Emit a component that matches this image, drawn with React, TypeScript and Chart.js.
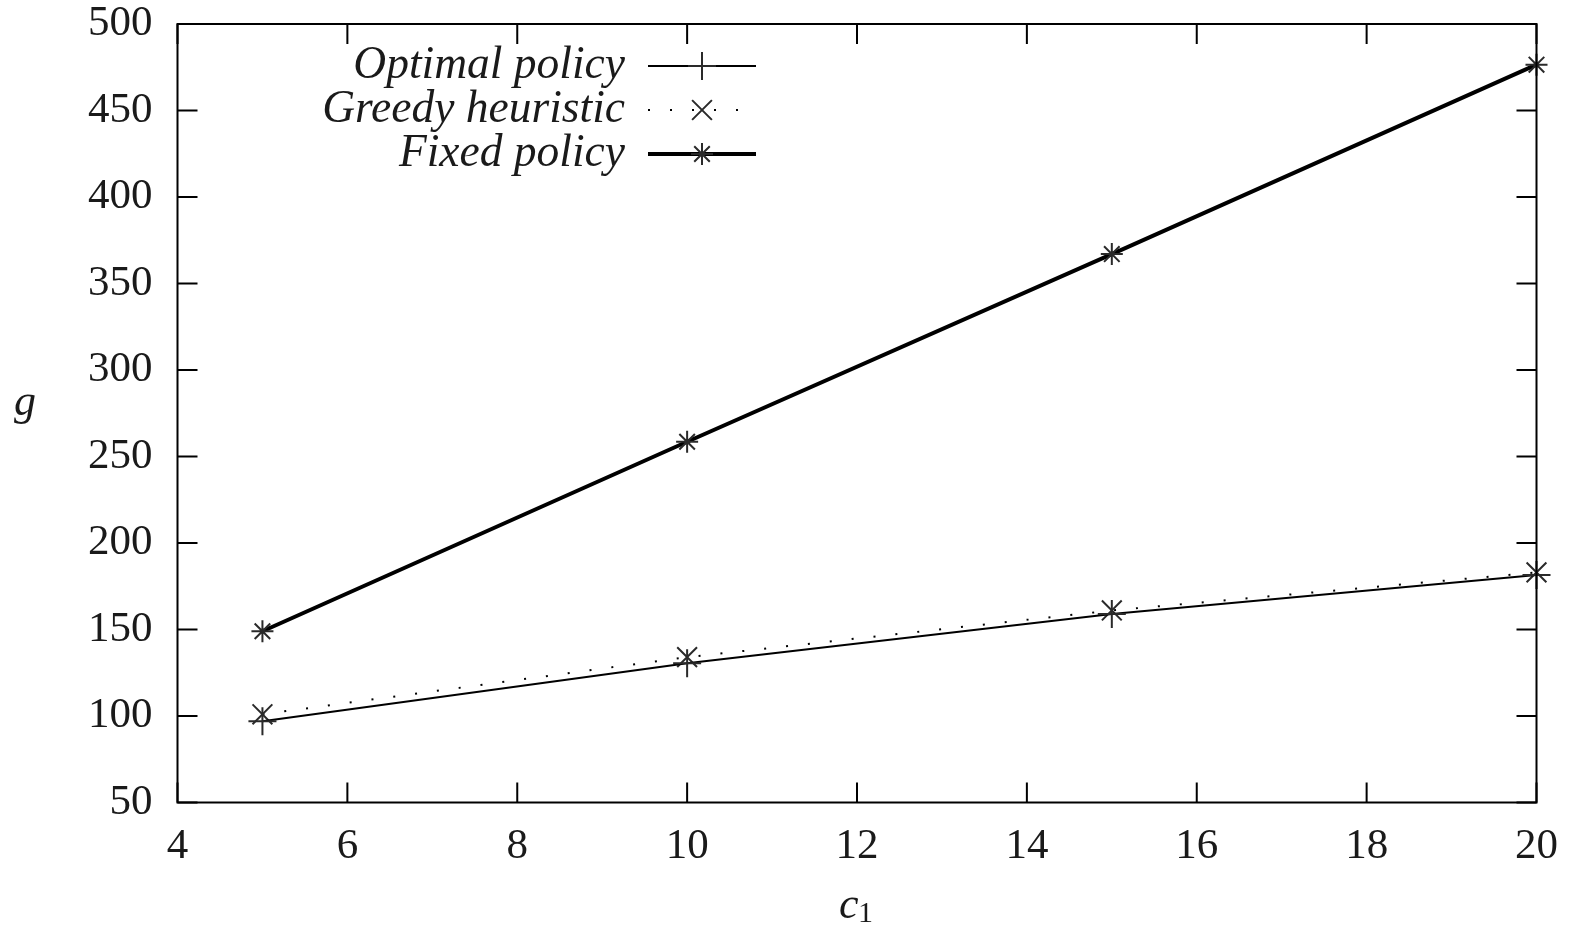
import React, { useEffect, useRef } from "react";
import { Chart, registerables } from "chart.js";
import { drawPoint } from "chart.js/helpers";

Chart.register(...registerables);

// ---- data ----
const c1Values = [5, 10, 15, 20];
const optimalPolicy = [97, 130.5, 159, 181.5];
const greedyHeuristic = [101, 134, 161, 183];
const fixedPolicy = [149, 258.5, 367, 476.5];
const seriesLabels = ["Optimal policy", "Greedy heuristic", "Fixed policy"];
const xMin = 4;
const xMax = 20;
const xStep = 2;
const yMin = 50;
const yMax = 500;
const yStep = 50;

const FONT = '"Liberation Serif", "DejaVu Serif", serif';
const INK = "#1a1a1a";

const framePlugin = {
  id: "gnuplotFrame",
  afterDraw(chart: any) {
    const { ctx, chartArea } = chart;
    const { left, right, top, bottom } = chartArea;
    const xs = chart.scales.x;
    const ys = chart.scales.y;
    ctx.save();
    ctx.strokeStyle = "#000";
    ctx.lineWidth = 2;
    ctx.setLineDash([]);
    const tl = 20;
    ctx.beginPath();
    xs.ticks.forEach((t: any) => {
      const px = xs.getPixelForValue(t.value);
      ctx.moveTo(px, bottom);
      ctx.lineTo(px, bottom - tl);
      ctx.moveTo(px, top);
      ctx.lineTo(px, top + tl);
    });
    ys.ticks.forEach((t: any) => {
      const py = ys.getPixelForValue(t.value);
      ctx.moveTo(left, py);
      ctx.lineTo(left + tl, py);
      ctx.moveTo(right, py);
      ctx.lineTo(right - tl, py);
    });
    ctx.stroke();
    ctx.strokeRect(left, top, right - left, bottom - top);

    // axis titles
    ctx.fillStyle = INK;
    ctx.textBaseline = "alphabetic";
    ctx.textAlign = "center";
    ctx.font = `italic 44px ${FONT}`;
    ctx.fillText("g", 25, 415);
    ctx.textAlign = "left";
    ctx.fillText("c", 839, 918);
    ctx.font = `30px ${FONT}`;
    ctx.fillText("1", 858, 922);

    // legend
    const rowY = [66, 110, 154];
    chart.data.datasets.forEach((ds: any, i: number) => {
      const y = rowY[i];
      ctx.font = `italic 45.5px ${FONT}`;
      ctx.textAlign = "right";
      ctx.textBaseline = "alphabetic";
      ctx.fillStyle = INK;
      ctx.fillText(ds.label, 625, y + 12);
      ctx.beginPath();
      ctx.strokeStyle = ds.borderColor;
      ctx.lineWidth = ds.borderWidth;
      ctx.lineCap = "butt";
      ctx.setLineDash(ds.borderDash || []);
      ctx.moveTo(648, y);
      ctx.lineTo(756, y);
      ctx.stroke();
      ctx.setLineDash([]);
      ctx.strokeStyle = ds.pointBorderColor;
      ctx.fillStyle = ds.pointBorderColor;
      ctx.lineWidth = ds.pointBorderWidth;
      drawPoint(
        ctx,
        {
          pointStyle: ds.pointStyle,
          radius: ds.pointRadius,
          borderWidth: ds.pointBorderWidth,
          rotation: 0,
        } as any,
        702,
        y
      );
    });
    ctx.restore();
  },
};

export default function App() {
  const ref = useRef<HTMLCanvasElement | null>(null);
  useEffect(() => {
    if (!ref.current) return;
    const toPts = (vals: number[]) => c1Values.map((x, i) => ({ x, y: vals[i] }));
    const chart = new Chart(ref.current, {
      type: "line",
      data: {
        datasets: [
          {
            label: seriesLabels[0],
            data: toPts(optimalPolicy),
            borderColor: "#000",
            borderWidth: 2,
            pointStyle: "cross",
            pointRadius: 14,
            pointBorderWidth: 2,
            pointBorderColor: "#2a2a2a",
            pointBackgroundColor: "#2a2a2a",
            fill: false,
            tension: 0,
            clip: false,
          } as any,
          {
            label: seriesLabels[1],
            data: toPts(greedyHeuristic),
            borderColor: "#000",
            borderWidth: 2,
            borderDash: [2, 20],
            pointStyle: "crossRot",
            pointRadius: 14,
            pointBorderWidth: 2,
            pointBorderColor: "#2a2a2a",
            pointBackgroundColor: "#2a2a2a",
            fill: false,
            tension: 0,
            clip: false,
          } as any,
          {
            label: seriesLabels[2],
            data: toPts(fixedPolicy),
            borderColor: "#000",
            borderWidth: 4,
            pointStyle: "star",
            pointRadius: 11,
            pointBorderWidth: 2,
            pointBorderColor: "#2a2a2a",
            pointBackgroundColor: "#2a2a2a",
            fill: false,
            tension: 0,
            clip: false,
          } as any,
        ],
      },
      options: {
        responsive: false,
        animation: false,
        devicePixelRatio: 1,
        layout: { padding: { left: 0, top: 24, right: 40.5, bottom: 0 } },
        plugins: {
          legend: { display: false },
          tooltip: { enabled: false },
          title: { display: false },
        },
        elements: { line: { borderCapStyle: "butt" } },
        scales: {
          x: {
            type: "linear",
            min: xMin,
            max: xMax,
            grid: { display: false, drawTicks: false },
            border: { display: false },
            ticks: {
              stepSize: xStep,
              padding: 18,
              color: INK,
              font: { family: FONT, size: 43 },
              maxRotation: 0,
              autoSkip: false,
            },
            afterFit: (s: any) => {
              s.height = 124.5;
              s.paddingLeft = 0;
              s.paddingRight = 0;
            },
          },
          y: {
            type: "linear",
            min: yMin,
            max: yMax,
            grid: { display: false, drawTicks: false },
            border: { display: false },
            ticks: {
              stepSize: yStep,
              padding: 25,
              color: INK,
              font: { family: FONT, size: 43 },
              autoSkip: false,
            },
            afterFit: (s: any) => {
              s.width = 177.5;
              s.paddingTop = 0;
              s.paddingBottom = 0;
            },
          },
        },
      },
      plugins: [framePlugin],
    });
    return () => chart.destroy();
  }, []);
  return (
    <div style={{ position: "fixed", left: 0, top: 0, width: 1577, height: 927, background: "#fff" }}>
      <canvas ref={ref} width={1577} height={927} style={{ display: "block" }} />
    </div>
  );
}
